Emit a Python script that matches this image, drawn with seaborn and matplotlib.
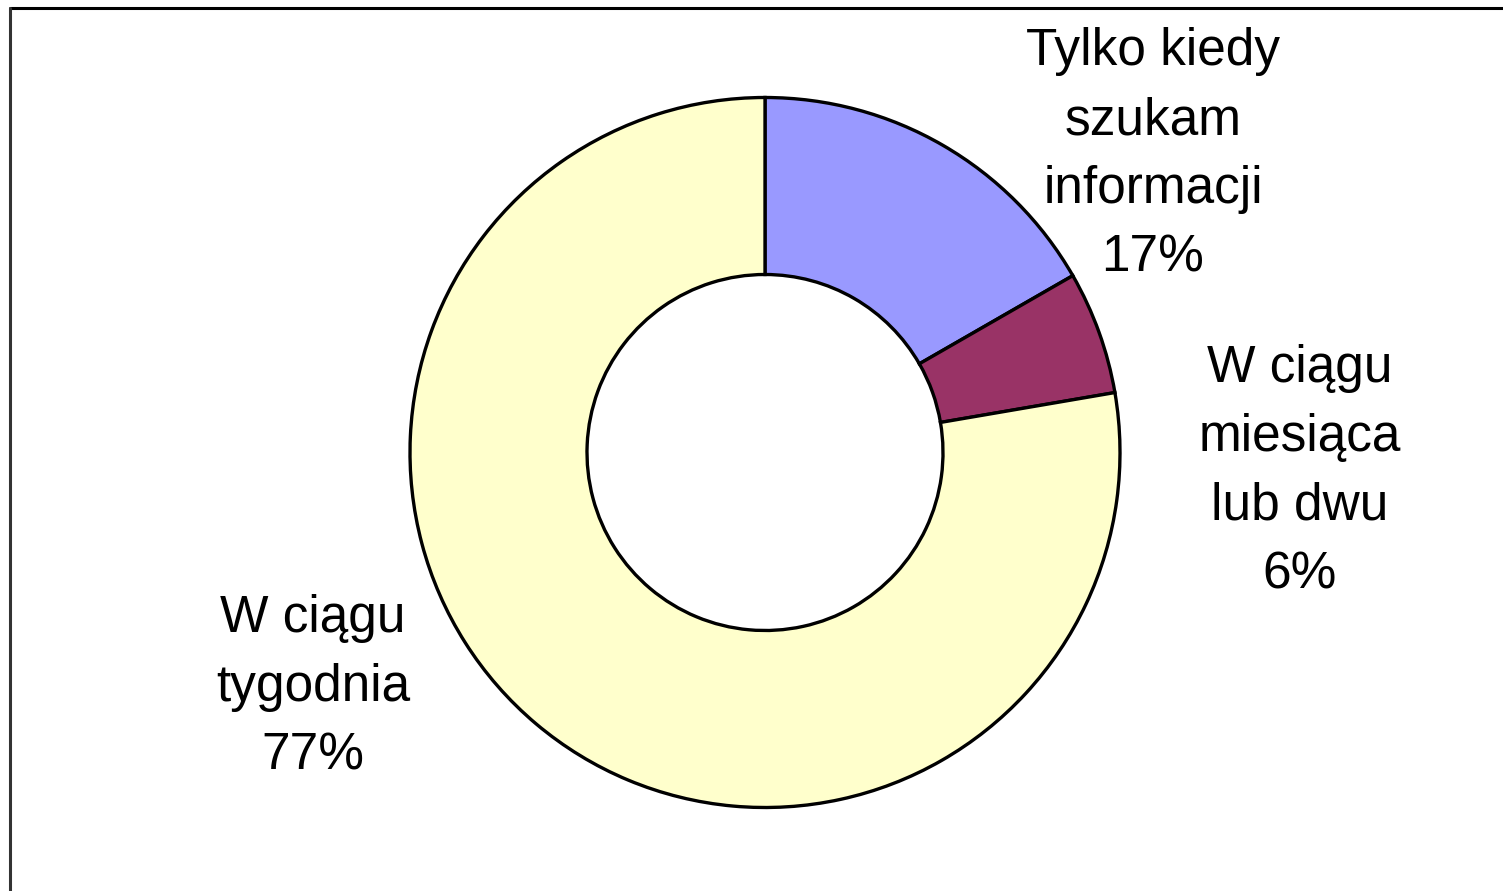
import matplotlib
matplotlib.use("Agg")
import matplotlib.pyplot as plt
import seaborn as sns

categories = ["Tylko kiedy\nszukam\ninformacji", "W ciągu\nmiesiąca\nlub dwu", "W ciągu\ntygodnia"]
values = [16.7, 5.6, 77.7]
pct_labels = ["17%", "6%", "77%"]
colors = ["#9999FF", "#993366", "#FFFFCC"]

sns.set_theme(style="white")
plt.rcParams['font.family'] = ['Liberation Sans', 'DejaVu Sans']

W, H = 1503, 891
fig = plt.figure(figsize=(W / 100, H / 100), dpi=100)
ax = fig.add_axes([0, 0, 1, 1])

palette = sns.color_palette(colors)
ax.pie(values, colors=palette, startangle=90, counterclock=False,
       center=(765, H - 452.5), radius=355, frame=True,
       wedgeprops=dict(width=177, edgecolor='black', linewidth=2.4))
ax.set_xlim(0, W)
ax.set_ylim(0, H)
ax.set_aspect('equal')
ax.axis('off')

label_pos = [(1153, 155), (1300, 472), (313, 687)]
for (x, y), cat, pct in zip(label_pos, categories, pct_labels):
    ax.text(x, H - y, cat + "\n" + pct, ha='center', va='center',
            fontsize=37, color='black', linespacing=1.52)

# frame lines (top and left)
fig.add_artist(plt.Line2D([10 / W, 1], [1 - 8 / H, 1 - 8 / H], color='black', lw=2.2, transform=fig.transFigure))
fig.add_artist(plt.Line2D([10 / W, 10 / W], [0, 1 - 8 / H], color='#333333', lw=2.2, transform=fig.transFigure))

fig.savefig("out.png", dpi=100)
